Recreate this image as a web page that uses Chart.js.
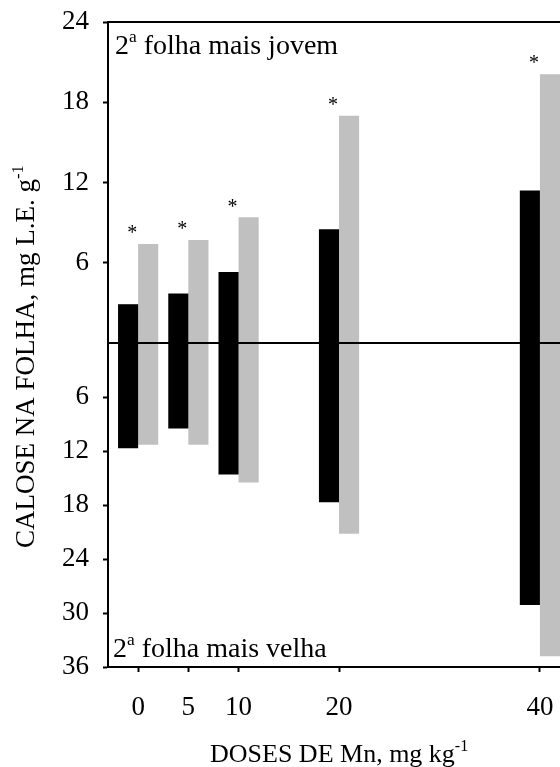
<!DOCTYPE html>
<html>
<head>
<meta charset="utf-8">
<script src="https://cdn.jsdelivr.net/npm/chart.js@4/dist/chart.umd.min.js"></script>
<style>
  html, body { margin: 0; padding: 0; background: #fff; }
</style>
</head>
<body>
<canvas id="chart" width="560" height="767"></canvas>
<script>
// Mn doses (mg/kg) on the x axis
const doses = [0, 5, 10, 20, 40];
// callose in the 2nd youngest leaf (upper panel), mg L.E. per g
const youngBlack = [2.9, 3.7, 5.3, 8.5, 11.4];
const youngGray  = [7.4, 7.7, 9.4, 17.0, 20.1];
// callose in the 2nd oldest leaf (lower panel, axis runs downward)
const oldBlack = [11.7, 9.5, 14.6, 17.7, 29.1];
const oldGray  = [11.3, 11.3, 15.5, 21.2, 34.8];
// significance marks placed over the grey bars of the upper panel
const significant = [true, true, true, true, true];

const SERIF = "'Liberation Serif', 'Times New Roman', serif";
const TICK_FONT = { family: SERIF, size: 27 };
const CAPTION_SIZE = 28;
const TITLE_SIZE = 26;
const BLACK = '#000000';
const GREY = '#c0c0c0';

const pts = vals => doses.map((d, i) => ({ x: d, y: vals[i] }));
const hideZero = v => (v === 0 ? '' : v);
const tickColorNoZero = c => (c.tick && c.tick.value === 0 ? 'rgba(0,0,0,0)' : BLACK);

// draws a run of text pieces, some of them as superscripts
function drawRich(ctx, parts, x, y, size) {
  let cx = x;
  for (const p of parts) {
    const s = p.sup ? size * 0.62 : size;
    ctx.font = s + 'px ' + SERIF;
    ctx.fillText(p.t, cx, p.sup ? y - size * 0.42 : y);
    cx += ctx.measureText(p.t).width;
  }
}

const decorations = {
  id: 'decorations',
  afterDatasetsDraw(chart) {
    const { ctx, chartArea: a, scales } = chart;
    ctx.save();
    ctx.fillStyle = BLACK;
    // upper frame line
    ctx.fillRect(a.left, a.top - 1, a.right - a.left, 2);

    // zero line separating the two panels
    const y0 = Math.round(scales.yTop.getPixelForValue(0));
    ctx.fillRect(a.left, y0 - 1, a.right - a.left, 2);

    // asterisks over the grey bars
    ctx.font = '20px ' + SERIF;
    ctx.textAlign = 'center';
    ctx.textBaseline = 'middle';
    chart.getDatasetMeta(1).data.forEach((bar, i) => {
      if (!significant[i]) return;
      ctx.fillText('*', scales.x.getPixelForValue(doses[i]) - 6, bar.y - 10);
    });

    // panel captions
    ctx.textAlign = 'left';
    ctx.textBaseline = 'alphabetic';
    drawRich(ctx, [{ t: '2' }, { t: 'a', sup: true }, { t: ' folha mais jovem' }], a.left + 7, a.top + 32, CAPTION_SIZE);
    drawRich(ctx, [{ t: '2' }, { t: 'a', sup: true }, { t: ' folha mais velha' }], a.left + 5, a.bottom - 10, CAPTION_SIZE);

    // x axis title
    drawRich(ctx, [{ t: 'DOSES DE Mn, mg kg' }, { t: '-1', sup: true }], 210, 762, TITLE_SIZE);

    // y axis title, rotated
    ctx.translate(34, 548);
    ctx.rotate(-Math.PI / 2);
    drawRich(ctx, [{ t: 'CALOSE NA FOLHA, mg L.E. g' }, { t: '-1', sup: true }], 0, 0, 27);
    ctx.restore();
  }
};

function panelAxis(max, reverse, weight, stackWeight) {
  return {
    type: 'linear', position: 'left', stack: 'panels', stackWeight, weight,
    min: 0, max, reverse,
    grid: { drawOnChartArea: false, tickLength: 5, tickWidth: 2, tickColor: tickColorNoZero },
    border: { display: true, color: BLACK, width: 2 },
    ticks: { stepSize: 6, autoSkip: false, color: BLACK, font: TICK_FONT, padding: 14, callback: hideZero },
    afterFit: s => { s.width = 108; s.paddingTop = 0; s.paddingBottom = 0; }
  };
}

new Chart(document.getElementById('chart'), {
  type: 'bar',
  data: {
    datasets: [
      { data: pts(youngBlack), yAxisID: 'yTop', stack: 'black', backgroundColor: BLACK },
      { data: pts(youngGray),  yAxisID: 'yTop', stack: 'grey',  backgroundColor: GREY },
      { data: pts(oldBlack),   yAxisID: 'yBot', stack: 'black', backgroundColor: BLACK },
      { data: pts(oldGray),    yAxisID: 'yBot', stack: 'grey',  backgroundColor: GREY }
    ]
  },
  options: {
    responsive: false, animation: false, devicePixelRatio: 1,
    datasets: { bar: { categoryPercentage: 0.8, barPercentage: 1.0, borderWidth: 0 } },
    layout: { padding: { top: 22, left: 0, right: 0, bottom: 0 } },
    plugins: { legend: { display: false }, tooltip: { enabled: false } },
    scales: {
      x: {
        type: 'linear', offset: false, min: -3, max: 42,
        afterBuildTicks: s => { s.ticks = doses.map(v => ({ value: v })); },
        grid: { offset: false, drawOnChartArea: false, tickLength: 5, tickWidth: 2, tickColor: BLACK },
        border: { display: true, color: BLACK, width: 2 },
        ticks: { color: BLACK, font: TICK_FONT, padding: 20, autoSkip: false, maxRotation: 0 },
        afterFit: s => { s.height = 100; s.paddingLeft = 0; s.paddingRight = 0; }
      },
      yTop: panelAxis(24, false, 1, 321),
      yBot: panelAxis(36, true, 0, 324)
    }
  },
  plugins: [decorations]
});
</script>
</body>
</html>
